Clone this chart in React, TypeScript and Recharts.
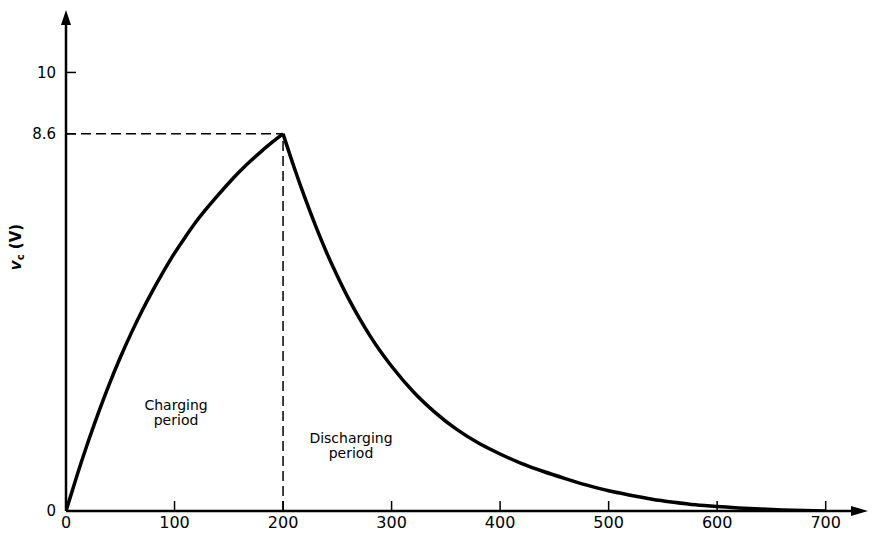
import React from 'react';
import { LineChart, Line, XAxis, YAxis, ReferenceLine, ReferenceDot, Label } from 'recharts';

// Charging period (t, v_c) readings
const chargeTime = [0, 10, 20, 30, 40, 50, 60, 70, 80, 90, 100, 110, 120, 130, 140, 150, 160, 170, 180, 190, 200];
const chargeVoltage = [0, 0.8, 1.55, 2.25, 2.9, 3.5, 4.05, 4.56, 5.03, 5.47, 5.88, 6.25, 6.6, 6.91, 7.2, 7.48, 7.74, 7.98, 8.2, 8.41, 8.6];

// Discharging period (t, v_c) readings
const dischargeTime = [200, 210, 220, 230, 240, 250, 260, 270, 280, 290, 300, 320, 340, 360, 380, 400, 420, 440, 460, 480, 500, 520, 540, 560, 580, 600, 620, 640, 660, 680, 700];
const dischargeVoltage = [8.6, 7.85, 7.15, 6.5, 5.9, 5.36, 4.86, 4.41, 4.0, 3.63, 3.3, 2.72, 2.25, 1.86, 1.55, 1.3, 1.08, 0.9, 0.74, 0.59, 0.46, 0.36, 0.27, 0.2, 0.14, 0.1, 0.07, 0.045, 0.025, 0.01, 0];

const xTicks = [0, 100, 200, 300, 400, 500, 600, 700];
const yTicks = [0, 8.6, 10];
const peakTime = 200;
const peakVoltage = 8.6;
const xMax = 727;
const yMax = 11.15;

const chargeData = chargeTime.map((t, i) => ({ t, v: chargeVoltage[i] }));
const dischargeData = dischargeTime.map((t, i) => ({ t, v: dischargeVoltage[i] }));

const FONT = '"DejaVu Sans", sans-serif';

const twoLine = (l1: string, l2: string, size: number) => (p: any) => (
  <text x={p.cx} y={p.cy} textAnchor="middle" fontFamily={FONT} fontSize={size} fill="#000">
    <tspan x={p.cx} dy={0}>{l1}</tspan>
    <tspan x={p.cx} dy={15}>{l2}</tspan>
  </text>
);

export default function App() {
  return (
    <div style={{ position: 'absolute', left: 0, top: 0, width: 875, height: 534, background: '#fff' }}>
      <LineChart width={875} height={534} margin={{ top: 22, right: 20, bottom: 0, left: 0 }}>
        <XAxis
          type="number"
          dataKey="t"
          domain={[0, xMax]}
          ticks={xTicks}
          interval={0}
          allowDataOverflow
          height={23}
          tickSize={-10}
          tickMargin={16}
          axisLine={{ stroke: '#000', strokeWidth: 2.5 }}
          tickLine={{ stroke: '#000', strokeWidth: 1.5 }}
          tick={{ fill: '#000', fontSize: 16, fontFamily: FONT }}
        />
        <YAxis
          type="number"
          dataKey="v"
          domain={[0, yMax]}
          ticks={yTicks}
          interval={0}
          allowDataOverflow
          width={66}
          tickSize={-10}
          tickMargin={20}
          axisLine={{ stroke: '#000', strokeWidth: 2.5 }}
          tickLine={{ stroke: '#000', strokeWidth: 1.5 }}
          tick={{ fill: '#000', fontSize: 15, fontFamily: FONT }}
        >
          <Label
            content={() => (
              <text
                x={21}
                y={247}
                transform="rotate(-90, 21, 247)"
                textAnchor="middle"
                fontFamily={FONT}
                fontSize={15}
                fontWeight="bold"
                fill="#000"
              >
                <tspan fontStyle="italic">v</tspan>
                <tspan fontSize={10} dy={3}>c</tspan>
                <tspan dy={-3}> (V)</tspan>
              </text>
            )}
          />
        </YAxis>
        <ReferenceLine
          segment={[{ x: 0, y: peakVoltage }, { x: peakTime, y: peakVoltage }]}
          stroke="#000"
          strokeWidth={1.5}
          strokeDasharray="10 5"
        />
        <ReferenceLine
          segment={[{ x: peakTime, y: 0 }, { x: peakTime, y: peakVoltage }]}
          stroke="#000"
          strokeWidth={1.5}
          strokeDasharray="10 5"
        />
        <Line data={chargeData} dataKey="v" type="monotone" stroke="#000" strokeWidth={3.5} dot={false} isAnimationActive={false} />
        <Line data={dischargeData} dataKey="v" type="monotone" stroke="#000" strokeWidth={3.5} dot={false} isAnimationActive={false} />
        <ReferenceDot
          x={xMax}
          y={0}
          ifOverflow="visible"
          shape={(p: any) => (
            <polygon points={`${p.cx - 4},${p.cy - 5} ${p.cx + 13},${p.cy} ${p.cx - 4},${p.cy + 5}`} fill="#000" />
          )}
        />
        <ReferenceDot
          x={0}
          y={yMax}
          ifOverflow="visible"
          shape={(p: any) => (
            <polygon points={`${p.cx - 5},${p.cy + 3} ${p.cx},${p.cy - 12} ${p.cx + 5},${p.cy + 3}`} fill="#000" />
          )}
        />
        <ReferenceDot x={101.4} y={2.3} ifOverflow="visible" shape={twoLine('Charging', 'period', 14)} />
        <ReferenceDot x={262.6} y={1.55} ifOverflow="visible" shape={twoLine('Discharging', 'period', 14)} />
      </LineChart>
    </div>
  );
}
